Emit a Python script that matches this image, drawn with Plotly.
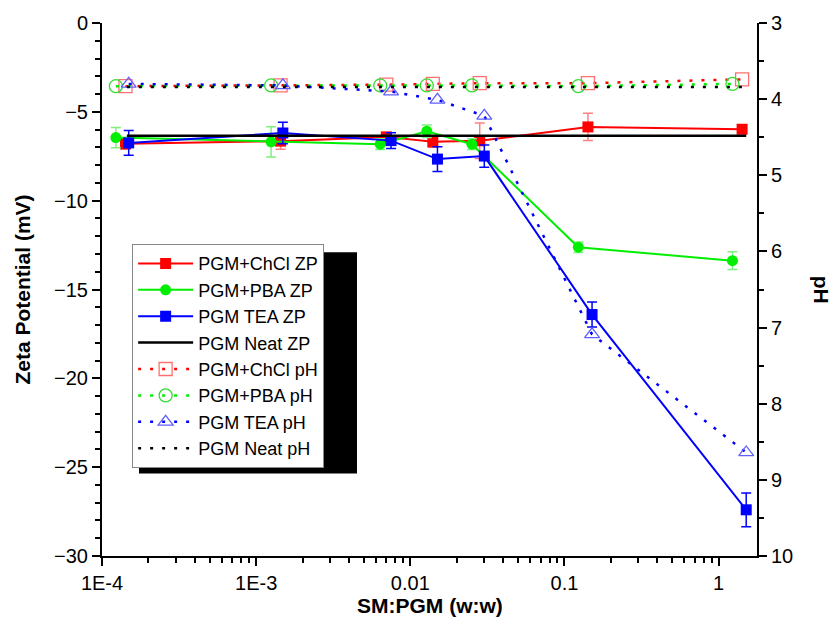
import plotly.graph_objects as go

# Solid-matter to PGM ratio (w:w) for each formulation
x_chcl = [1.42e-4, 1.44e-3, 6.99e-3, 0.0140, 0.0282, 0.142, 1.42]
x_pba = [1.23e-4, 1.25e-3, 6.38e-3, 0.0128, 0.0251, 0.123, 1.23]
x_tea = [1.49e-4, 1.49e-3, 7.50e-3, 0.0150, 0.0302, 0.151, 1.51]
x_neat = [1.45e-4, 1.51]

# Zeta potential (mV) with standard deviations
zp_chcl = [-6.80, -6.65, -6.41, -6.69, -6.63, -5.85, -5.98]
zp_chcl_err = [0.30, 0.45, 0.20, 0.30, 1.00, 0.77, 0.15]
zp_pba = [-6.45, -6.69, -6.82, -6.09, -6.82, -12.62, -13.38]
zp_pba_err = [0.57, 0.85, 0.30, 0.35, 0.30, 0.30, 0.50]
zp_tea = [-6.75, -6.19, -6.62, -7.66, -7.49, -16.41, -27.40]
zp_tea_err = [0.70, 0.60, 0.44, 0.70, 0.63, 0.70, 0.95]
zp_neat = [-6.35, -6.35]

# pH values
ph_chcl = [3.83, 3.82, 3.81, 3.80, 3.79, 3.79, 3.74]
ph_pba = [3.83, 3.82, 3.82, 3.82, 3.82, 3.83, 3.80]
ph_tea = [3.80, 3.82, 3.90, 4.01, 4.22, 7.09, 8.64]
ph_neat = [3.84, 3.84]

x_tickvals = [1e-4, 1e-3, 1e-2, 1e-1, 1]
x_ticktext = ["1E-4", "1E-3", "0.01", "0.1", "1"]

RED, GREEN, BLUE = "#FF0000", "#00EE00", "#0000FF"
FONT = "Liberation Sans, Arial, sans-serif"
DOTS = "3px,9px"

fig = go.Figure()


def zp_trace(x, y, err, name, color, err_color, symbol):
    return go.Scatter(
        x=x, y=y, name=name, mode="lines+markers",
        line=dict(color=color, width=2),
        marker=dict(symbol=symbol, size=11, color=color),
        error_y=dict(type="data", array=err, visible=True,
                     color=err_color, thickness=1.5, width=5),
        yaxis="y",
    )


def ph_trace(x, y, name, color, mcolor, symbol):
    return go.Scatter(
        x=x, y=y, name=name, mode="lines+markers",
        line=dict(color=color, width=2.5, dash=DOTS),
        marker=dict(symbol=symbol, size=13, color=mcolor,
                    line=dict(color=mcolor, width=1.3)),
        yaxis="y2",
    )


fig.add_trace(zp_trace(x_chcl, zp_chcl, zp_chcl_err, "PGM+ChCl ZP", RED, "#FF8080", "square"))
fig.add_trace(zp_trace(x_pba, zp_pba, zp_pba_err, "PGM+PBA ZP", GREEN, "#80F080", "circle"))
fig.add_trace(zp_trace(x_tea, zp_tea, zp_tea_err, "PGM TEA ZP", BLUE, BLUE, "square"))
fig.add_trace(go.Scatter(x=x_neat, y=zp_neat, name="PGM Neat ZP", mode="lines",
                         line=dict(color="black", width=2.5), yaxis="y"))
fig.add_trace(ph_trace(x_chcl, ph_chcl, "PGM+ChCl pH", RED, "#FF7070", "square-open"))
fig.add_trace(ph_trace(x_pba, ph_pba, "PGM+PBA pH", GREEN, "#33DD33", "circle-open"))
fig.add_trace(ph_trace(x_tea, ph_tea, "PGM TEA pH", BLUE, "#6060FF", "triangle-up-open"))
fig.add_trace(go.Scatter(x=x_neat, y=ph_neat, name="PGM Neat pH", mode="lines",
                         line=dict(color="black", width=2.5, dash=DOTS), yaxis="y2"))

axis_common = dict(showline=True, linecolor="black", linewidth=2, showgrid=False,
                   zeroline=False, ticks="outside", tickcolor="black", tickwidth=2,
                   ticklen=8, tickfont=dict(family=FONT, size=20, color="black"))

fig.update_layout(
    width=836, height=633,
    margin=dict(l=102, r=79, t=21, b=77),
    paper_bgcolor="white", plot_bgcolor="white",
    font=dict(family=FONT, color="black"),
    xaxis=dict(type="log", range=[-4, 0.249], tickvals=x_tickvals, ticktext=x_ticktext,
               minor=dict(ticks="outside", ticklen=5, tickcolor="black", tickwidth=1.5,
                          dtick="D1"),
               **axis_common),
    yaxis=dict(range=[-30, 0], dtick=5,
               minor=dict(ticks="outside", ticklen=5, tickcolor="black", tickwidth=1.5,
                          dtick=1),
               **axis_common),
    yaxis2=dict(range=[10, 3], dtick=1, overlaying="y", side="right",
                minor=dict(ticks="outside", ticklen=5, tickcolor="black", tickwidth=1.5,
                           dtick=0.5),
                **axis_common),
    legend=dict(x=0.046, y=0.585, xanchor="left", yanchor="top",
                bgcolor="white", bordercolor="#888888", borderwidth=1,
                font=dict(family=FONT, size=18, color="black"),
                tracegroupgap=0, itemwidth=55),
    showlegend=True,
)

# Drop shadow behind the legend box
fig.add_shape(type="rect", xref="paper", yref="paper",
              x0=0.0565, x1=0.3893, y0=0.155, y1=0.57,
              fillcolor="black", line=dict(width=0), layer="above")

# Axis titles
title_font = dict(family=FONT, size=21, color="black")
fig.add_annotation(text="<b>SM:PGM (w:w)</b>", xref="paper", yref="paper",
                   x=0.5, y=-0.093, xanchor="center", yanchor="middle",
                   showarrow=False, font=title_font)
fig.add_annotation(text="<b>Zeta Potential (mV)</b>", xref="paper", yref="paper",
                   x=-0.122, y=0.5, xanchor="center", yanchor="middle",
                   textangle=-90, showarrow=False, font=title_font)
fig.add_annotation(text="<b>pH</b>", xref="paper", yref="paper",
                   x=1.099, y=0.5, xanchor="center", yanchor="middle",
                   textangle=90, showarrow=False, font=title_font)

fig.write_html("out.html")
